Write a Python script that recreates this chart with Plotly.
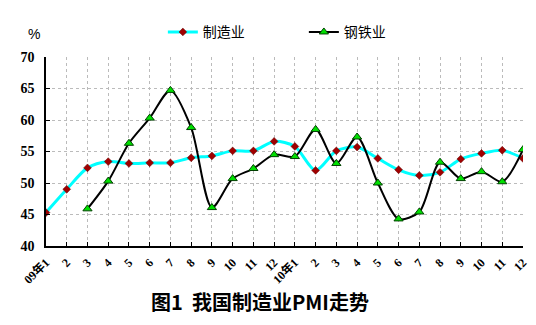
import plotly.graph_objects as go

months = list(range(24))
tick_labels = ["09年1", "2", "3", "4", "5", "6", "7", "8", "9", "10", "11", "12",
               "10年1", "2", "3", "4", "5", "6", "7", "8", "9", "10", "11", "12"]
manufacturing = [45.3, 49.0, 52.4, 53.4, 53.1, 53.2, 53.2, 54.0, 54.3, 55.1, 55.1, 56.6,
                 55.8, 52.0, 55.1, 55.7, 53.9, 52.1, 51.2, 51.7, 53.8, 54.7, 55.2, 53.9]
steel = [None, None, 45.9, 50.3, 56.3, 60.3, 64.7, 58.8, 46.1, 50.7, 52.3, 54.5,
         54.2, 58.5, 53.1, 57.3, 50.0, 44.3, 45.4, 53.3, 50.7, 51.8, 50.2, 55.3]

fig = go.Figure()
fig.add_trace(go.Scatter(
    x=months, y=manufacturing, name="制造业", mode="lines+markers",
    line=dict(color="#00FFFF", width=3, shape="spline", smoothing=0.8),
    marker=dict(symbol="diamond", size=6, color="#A00000",
                line=dict(color="#600000", width=0.5)),
))
fig.add_trace(go.Scatter(
    x=months, y=steel, name="钢铁业", mode="lines+markers",
    line=dict(color="#000000", width=2, shape="spline", smoothing=0.8),
    marker=dict(symbol="triangle-up", size=8, color="#00E000",
                line=dict(color="#004000", width=1)),
    connectgaps=False,
))

fig.update_layout(
    width=536, height=325,
    margin=dict(l=46, r=7, t=57, b=79),
    paper_bgcolor="white", plot_bgcolor="white",
    showlegend=True,
    legend=dict(orientation="h", x=0.245, y=1.215, xanchor="left", yanchor="top",
                font=dict(family="Noto Sans CJK SC", size=14, color="black"),
                entrywidth=96, entrywidthmode="pixels",
                bgcolor="rgba(0,0,0,0)", itemsizing="trace"),
    xaxis=dict(
        range=[0, 23], tickmode="array", tickvals=months, ticktext=tick_labels,
        tickangle=-45, ticks="inside", ticklen=4, tickcolor="black",
        showline=True, linecolor="black", linewidth=1.5,
        showgrid=True, gridcolor="#BBBBBB", griddash="dot", gridwidth=1,
        tickfont=dict(family="Liberation Serif, Noto Sans CJK SC", size=12, weight="bold", color="black"),
        ticklabelstandoff=3,
        zeroline=False, fixedrange=True,
    ),
    yaxis=dict(
        range=[40, 70], dtick=5, ticks="inside", ticklen=4, tickcolor="black",
        showline=True, linecolor="black", linewidth=1.5,
        showgrid=True, gridcolor="#BBBBBB", griddash="dot", gridwidth=1,
        tickfont=dict(family="Liberation Serif", size=14, weight="bold", color="black"),
        ticklabelstandoff=7, zeroline=False, fixedrange=True,
    ),
    annotations=[
        dict(text="%", xref="paper", yref="paper", x=-0.026, y=1.12,
             xanchor="center", yanchor="middle", showarrow=False,
             font=dict(family="Liberation Sans", size=14, color="black")),
        dict(text="图1  我国制造业PMI走势", xref="paper", yref="paper", x=0.448, y=-0.296,
             xanchor="center", yanchor="middle", showarrow=False,
             font=dict(family="Noto Sans CJK SC", size=20, weight="bold", color="black")),
    ],
)

fig.write_html("out.html")
